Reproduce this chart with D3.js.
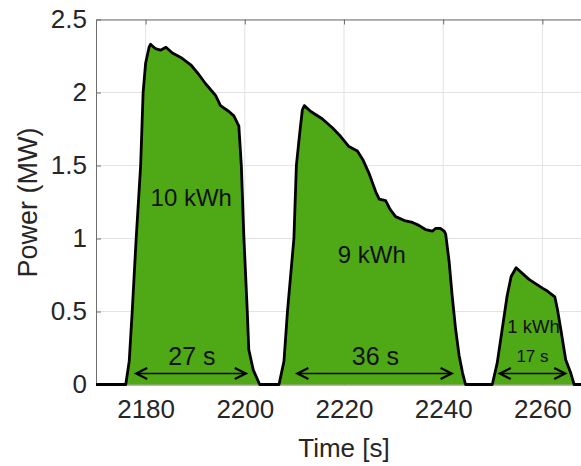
<!DOCTYPE html>
<html>
<head>
<meta charset="utf-8">
<script src="https://cdn.jsdelivr.net/npm/d3@7"></script>
<style>
html,body{margin:0;padding:0;background:#fff;}
svg{display:block;font-family:"Liberation Sans",Arial,Helvetica,sans-serif;}
</style>
</head>
<body>
<svg id="chart" width="581" height="466"></svg>
<script>
// ---- data ----
const timeS = [
  2170, 2176.0, 2176.7, 2177.3, 2178.1, 2179.0, 2179.5, 2180.0, 2180.7, 2181.0,
  2182.0, 2183.0, 2184.1, 2185.4, 2187.1, 2189.1, 2190.8, 2192.1, 2194.1, 2195.1,
  2196.8, 2197.8, 2198.8, 2199.3, 2199.8, 2200.5, 2200.8, 2201.7, 2203.0,
  2206.9, 2207.9, 2208.6, 2209.9, 2210.4, 2211.1, 2211.6, 2212.0, 2213.3, 2215.6,
  2217.6, 2219.3, 2221.0, 2222.7, 2223.8, 2225.0, 2226.4, 2227.1, 2228.4, 2229.3,
  2230.4, 2232.4, 2233.8, 2235.1, 2236.5, 2237.8, 2238.5, 2239.4, 2240.2, 2240.5,
  2241.2, 2241.8, 2242.5, 2243.2, 2243.9, 2244.5,
  2249.9, 2250.9, 2251.9, 2252.9, 2253.7, 2254.7, 2257.3, 2260.0, 2261.0, 2262.5,
  2263.0, 2263.7, 2264.7, 2265.7, 2266.4, 2270
];
const powerMW = [
  0, 0, 0.16, 0.50, 1.00, 1.50, 2.00, 2.20, 2.31, 2.33,
  2.30, 2.29, 2.31, 2.27, 2.24, 2.19, 2.12, 2.06, 1.98, 1.91,
  1.87, 1.84, 1.77, 1.50, 1.02, 0.50, 0.24, 0.10, 0,
  0, 0.16, 0.50, 1.00, 1.50, 1.73, 1.88, 1.91, 1.87, 1.82,
  1.76, 1.70, 1.63, 1.60, 1.54, 1.45, 1.32, 1.27, 1.26, 1.20,
  1.15, 1.12, 1.11, 1.09, 1.06, 1.05, 1.07, 1.07, 1.05, 1.03,
  0.84, 0.61, 0.38, 0.20, 0.08, 0,
  0, 0.15, 0.38, 0.61, 0.74, 0.80, 0.72, 0.66, 0.64, 0.60,
  0.52, 0.38, 0.17, 0.08, 0, 0
];
const xTicks = [2180, 2200, 2220, 2240, 2260];
const yTicks = [0, 0.5, 1, 1.5, 2, 2.5];
const energyLabels = ["10 kWh", "9 kWh", "1 kWh"];
const durationLabels = ["27 s", "36 s", "17 s"];
const durationStart = [2178.1, 2210.6, 2251.4];
const durationEnd   = [2200.2, 2241.7, 2264.6];

// ---- layout / style ----
const svg = d3.select("#chart");
const x = d3.scaleLinear().domain([2170, 2270]).range([96, 592]);
const y = d3.scaleLinear().domain([0, 2.5]).range([384.5, 19.5]);
const green = "#4fa916";
const font = "'Liberation Sans', Arial, Helvetica, sans-serif";

// gridlines
const grid = svg.append("g");
grid.selectAll("line.gx").data(xTicks).join("line")
  .attr("x1", d => x(d)).attr("x2", d => x(d))
  .attr("y1", y(2.5)).attr("y2", y(0))
  .attr("stroke", "#e3e3e3").attr("stroke-width", 1);
grid.selectAll("line.gy").data(yTicks).join("line")
  .attr("x1", x(2170)).attr("x2", 581)
  .attr("y1", d => y(d)).attr("y2", d => y(d))
  .attr("stroke", "#e3e3e3").attr("stroke-width", 1);

// axes (box lines with inward ticks)
const axisColor = "#6e6e6e";
const xAxisB = d3.axisBottom(x).tickValues(xTicks).tickSizeInner(-5).tickSizeOuter(0).tickPadding(14).tickFormat(d3.format("d"));
const gxb = svg.append("g").attr("transform", `translate(0,${y(0)})`).call(xAxisB);
gxb.select(".domain").attr("stroke", axisColor);
gxb.selectAll(".tick line").attr("stroke", axisColor);
gxb.selectAll("text").attr("font-size", 26).attr("font-family", font).attr("fill", "#262626").attr("dy", "0.75em");

const xAxisT = d3.axisTop(x).tickValues(xTicks).tickSizeInner(-5).tickSizeOuter(0).tickFormat("");
const gxt = svg.append("g").attr("transform", `translate(0,${y(2.5)})`).call(xAxisT);
gxt.select(".domain").attr("stroke", axisColor);
gxt.selectAll(".tick line").attr("stroke", axisColor);

const yAxisL = d3.axisLeft(y).tickValues(yTicks).tickSizeInner(-5).tickSizeOuter(0).tickPadding(9).tickFormat(d3.format("~g"));
const gyl = svg.append("g").attr("transform", `translate(${x(2170)},0)`).call(yAxisL);
gyl.select(".domain").attr("stroke", axisColor);
gyl.selectAll(".tick line").attr("stroke", axisColor);
gyl.selectAll("text").attr("font-size", 26).attr("font-family", font).attr("fill", "#262626");

// area + outline
const pts = timeS.map((t, i) => [t, powerMW[i]]);
svg.append("path").datum(pts)
  .attr("d", d3.area().x(d => x(d[0])).y0(y(0)).y1(d => y(d[1])))
  .attr("fill", green);
svg.append("path").datum(pts)
  .attr("d", d3.line().x(d => x(d[0])).y(d => y(d[1])))
  .attr("fill", "none").attr("stroke", "#000").attr("stroke-width", 2.8)
  .attr("stroke-linejoin", "round");

// energy labels
const energyPos = [[2189.2, 1.22, 24], [2225.6, 0.83, 24], [2258.2, 0.35, 18.5]];
svg.selectAll("text.energy").data(energyLabels).join("text")
  .attr("class", "energy")
  .attr("x", (d, i) => x(energyPos[i][0]))
  .attr("y", (d, i) => y(energyPos[i][1]))
  .attr("text-anchor", "middle")
  .attr("font-size", (d, i) => energyPos[i][2])
  .attr("font-family", font).attr("fill", "#111")
  .text(d => d);

// duration arrows
const arrowY = 0.075;
const ay = y(arrowY);
const head = 11, halfW = 5.5;
durationLabels.forEach((lab, i) => {
  const x1 = x(durationStart[i]), x2 = x(durationEnd[i]);
  const g = svg.append("g");
  g.append("line").attr("x1", x1).attr("x2", x2).attr("y1", ay).attr("y2", ay)
    .attr("stroke", "#000").attr("stroke-width", 1.6);
  g.append("path")
    .attr("d", `M${x1 + head},${ay - halfW} L${x1},${ay} L${x1 + head},${ay + halfW}`)
    .attr("fill", "none").attr("stroke", "#000").attr("stroke-width", 2.2).attr("stroke-linejoin", "miter");
  g.append("path")
    .attr("d", `M${x2 - head},${ay - halfW} L${x2},${ay} L${x2 - head},${ay + halfW}`)
    .attr("fill", "none").attr("stroke", "#000").attr("stroke-width", 2.2).attr("stroke-linejoin", "miter");
  g.append("text")
    .attr("x", (x1 + x2) / 2 + (i === 2 ? 0 : 1))
    .attr("y", i === 2 ? 362 : 365)
    .attr("text-anchor", "middle")
    .attr("font-size", i === 2 ? 17 : 25)
    .attr("font-family", font).attr("fill", "#111")
    .text(lab);
});

// axis titles
svg.append("text").attr("x", 344).attr("y", 457)
  .attr("text-anchor", "middle").attr("font-size", 26).attr("font-family", font).attr("fill", "#262626")
  .text("Time [s]");
svg.append("text").attr("transform", `translate(37,202.5) rotate(-90)`)
  .attr("text-anchor", "middle").attr("font-size", 27).attr("font-family", font).attr("fill", "#262626")
  .text("Power (MW)");
</script>
</body>
</html>
